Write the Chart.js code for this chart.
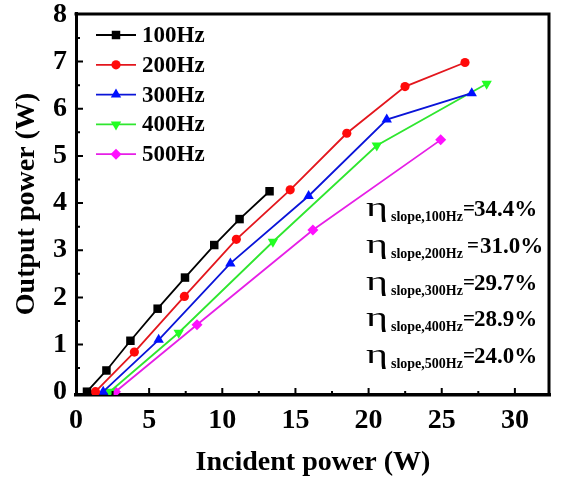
<!DOCTYPE html>
<html><head><meta charset="utf-8">
<script src="https://cdn.jsdelivr.net/npm/chart.js@4/dist/chart.umd.min.js"></script>
<style>html,body{margin:0;padding:0;background:#fff}</style>
</head><body>
<canvas id="c" width="562" height="480" style="display:block;width:562px;height:480px"></canvas>
<script>
const seriesNames = ['100Hz','200Hz','300Hz','400Hz','500Hz'];
const x100 = [0.75, 2.08, 3.72, 5.58, 7.45, 9.45, 11.18, 13.23];
const y100 = [0.0, 0.45, 1.08, 1.76, 2.42, 3.11, 3.66, 4.25];
const x200 = [1.33, 3.99, 7.41, 10.96, 14.64, 18.51, 22.49, 26.59];
const y200 = [0.0, 0.84, 2.02, 3.23, 4.28, 5.48, 6.47, 6.98];
const x300 = [1.86, 5.65, 10.55, 15.9, 21.24, 27.05];
const y300 = [0.0, 1.1, 2.72, 4.15, 5.77, 6.33];
const x400 = [2.31, 7.02, 13.46, 20.56, 28.07];
const y400 = [0.0, 1.25, 3.18, 5.22, 6.53];
const x500 = [2.7, 8.27, 16.19, 24.93];
const y500 = [0.0, 1.42, 3.43, 5.34];
const xTicks = [0, 5, 10, 15, 20, 25, 30];
const yTicks = [0, 1, 2, 3, 4, 5, 6, 7, 8];
const slopeLabels = ['slope,100Hz', 'slope,200Hz', 'slope,300Hz', 'slope,400Hz', 'slope,500Hz'];
const slopeValues = ['34.4%', '31.0%', '29.7%', '28.9%', '24.0%'];

const SERIF = '"Liberation Serif", "Times New Roman", serif';
const pts = (xs, ys) => xs.map((v, i) => ({x: v, y: ys[i]}));
const styles = [
  {line: '#000000', fill: '#000000', ps: 'rect', rot: 0, r: 6},
  {line: '#e3161d', fill: '#ff0a0a', ps: 'circle', rot: 0, r: 4.6},
  {line: '#0a14d8', fill: '#0010ff', ps: 'triangle', rot: 0, r: 6},
  {line: '#2fe62f', fill: '#22ff22', ps: 'triangle', rot: 180, r: 6},
  {line: '#e61fe6', fill: '#ff10ff', ps: 'rectRot', rot: 0, r: 5.5}
];
const allX = [x100, x200, x300, x400, x500];
const allY = [y100, y200, y300, y400, y500];
const datasets = seriesNames.map((n, i) => ({
  label: n,
  data: pts(allX[i], allY[i]),
  showLine: true,
  borderColor: styles[i].line,
  backgroundColor: styles[i].fill,
  borderWidth: 1.8,
  pointStyle: styles[i].ps,
  pointRotation: styles[i].rot,
  pointRadius: styles[i].r,
  pointBorderWidth: 0,
  pointBorderColor: styles[i].fill,
  pointBackgroundColor: styles[i].fill
}));

function marker(ctx, style, rot, r, cx, cy, color) {
  ctx.save();
  ctx.translate(cx, cy);
  ctx.rotate(rot * Math.PI / 180);
  ctx.fillStyle = color;
  ctx.beginPath();
  if (style === 'rect') { const s = r * Math.SQRT1_2; ctx.rect(-s, -s, 2 * s, 2 * s); }
  else if (style === 'circle') { ctx.arc(0, 0, r, 0, Math.PI * 2); }
  else if (style === 'triangle') {
    for (let k = 0; k < 3; k++) { const a = -Math.PI / 2 + k * 2 * Math.PI / 3; const px = Math.cos(a) * r, py = Math.sin(a) * r; k ? ctx.lineTo(px, py) : ctx.moveTo(px, py); }
    ctx.closePath();
  } else if (style === 'rectRot') { ctx.moveTo(0, -r); ctx.lineTo(r, 0); ctx.lineTo(0, r); ctx.lineTo(-r, 0); ctx.closePath(); }
  ctx.fill();
  ctx.restore();
}

const decor = {
  id: 'decor',
  afterDraw(chart) {
    const {ctx, chartArea: a, scales: {x, y}} = chart;
    ctx.save();
    ctx.strokeStyle = '#000';
    ctx.lineWidth = 3;
    ctx.beginPath();
    ctx.moveTo(a.left - 1.5, a.top + 1);
    ctx.lineTo(a.right - 1, a.top + 1);
    ctx.lineTo(a.right - 1, a.bottom);
    ctx.stroke();
    // inward ticks
    ctx.lineWidth = 2;
    ctx.beginPath();
    xTicks.forEach(v => {
      const px = x.getPixelForValue(v);
      if (v > x.min + 0.5) { ctx.moveTo(px, a.bottom); ctx.lineTo(px, a.bottom - 7); }
      const m = v + (xTicks[1] - xTicks[0]) / 2;
      if (m < x.max) { const pm = x.getPixelForValue(m); ctx.moveTo(pm, a.bottom); ctx.lineTo(pm, a.bottom - 4); }
    });
    yTicks.forEach(v => {
      const py = y.getPixelForValue(v);
      if (v > y.min + 0.2 && v < y.max - 0.1) { ctx.moveTo(a.left, py); ctx.lineTo(a.left + 7, py); }
      const m = v + (yTicks[1] - yTicks[0]) / 2;
      if (m < y.max) { const pm = y.getPixelForValue(m); ctx.moveTo(a.left, pm); ctx.lineTo(a.left + 4, pm); }
    });
    ctx.stroke();

    // legend
    chart.data.datasets.forEach((ds, i) => {
      const ry = 35 + i * 29.8;
      ctx.strokeStyle = ds.borderColor;
      ctx.lineWidth = 1.8;
      ctx.beginPath(); ctx.moveTo(96, ry); ctx.lineTo(136, ry); ctx.stroke();
      marker(ctx, ds.pointStyle, ds.pointRotation, ds.pointRadius, 116, ry, ds.pointBackgroundColor);
      ctx.fillStyle = '#000';
      ctx.font = 'bold 23px ' + SERIF;
      ctx.textBaseline = 'middle';
      ctx.textAlign = 'left';
      ctx.fillText(ds.label, 142, ry + 1);
    });

    // slope annotations
    ctx.fillStyle = '#000';
    ctx.textBaseline = 'alphabetic';
    slopeLabels.forEach((lab, i) => {
      const base = 216 + i * 36.8;
      ctx.save();
      ctx.translate(366, base);
      ctx.scale(1.5, 1);
      ctx.font = '28px ' + SERIF;
      ctx.fillText('\u03b7', 0, 0);
      ctx.restore();
      ctx.font = 'bold 14px ' + SERIF;
      ctx.fillText(lab, 391, base + 5);
      const w = ctx.measureText(lab).width;
      ctx.font = 'bold 21px ' + SERIF;
      const eqX = 391 + w + (i === 1 ? 4 : 0);
      ctx.fillText('=', eqX, base - 1);
      ctx.font = 'bold 23px ' + SERIF;
      ctx.fillText(slopeValues[i], i === 1 ? 480 : 474, base);
    });
    ctx.restore();
  }
};

new Chart(document.getElementById('c'), {
  type: 'scatter',
  data: {datasets},
  options: {
    responsive: false,
    animation: false,
    devicePixelRatio: 1,
    layout: {padding: {top: 13, right: 12, left: 0, bottom: 0}},
    plugins: {legend: {display: false}, tooltip: {enabled: false}},
    scales: {
      x: {
        type: 'linear', min: 0, max: 32.4,
        afterFit: s => { s.height = 85; s.paddingLeft = 0; s.paddingRight = 0; },
        afterBuildTicks: s => { s.ticks = xTicks.map(v => ({value: v})); },
        grid: {display: true, drawOnChartArea: false, drawTicks: false},
        border: {display: true, color: '#000', width: 3.5},
        ticks: {color: '#000', padding: 9, font: {family: SERIF, size: 28, weight: 'bold'}, maxRotation: 0},
        title: {display: true, text: 'Incident power (W)', color: '#000', padding: {top: 0, bottom: 0}, font: {family: SERIF, size: 28, weight: 'bold'}}
      },
      y: {
        type: 'linear', min: -0.07, max: 8.03,
        afterFit: s => { s.width = 76; s.paddingTop = 0; s.paddingBottom = 0; },
        afterBuildTicks: s => { s.ticks = yTicks.map(v => ({value: v})); },
        grid: {display: true, drawOnChartArea: false, drawTicks: false},
        border: {display: true, color: '#000', width: 3},
        ticks: {color: '#000', padding: 9, font: {family: SERIF, size: 28, weight: 'bold'}},
        title: {display: true, text: 'Output power (W)', color: '#000', padding: {top: 10, bottom: 0}, font: {family: SERIF, size: 28, weight: 'bold'}}
      }
    }
  },
  plugins: [decor]
});
</script>
</body></html>
